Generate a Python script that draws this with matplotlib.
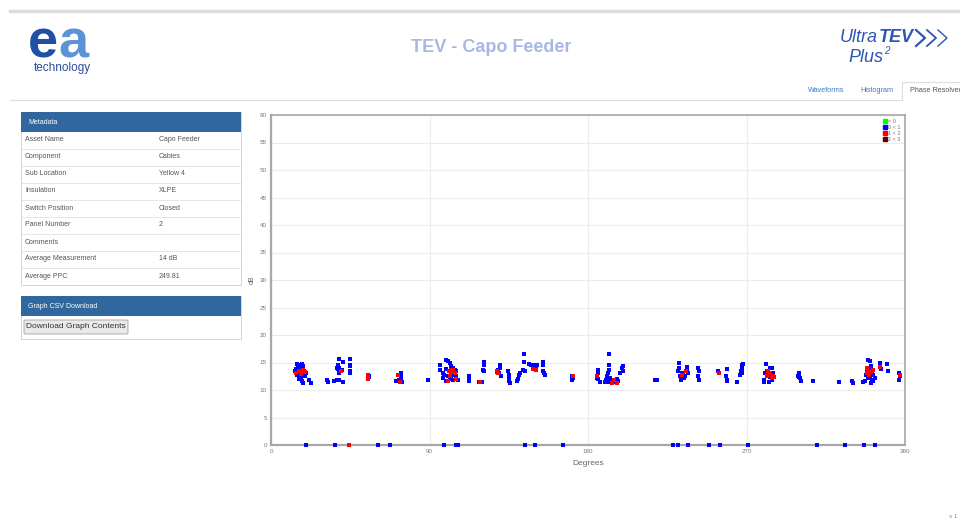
import matplotlib
matplotlib.use('Agg')
import matplotlib.pyplot as plt
from matplotlib.patches import Rectangle, FancyBboxPatch
from matplotlib.lines import Line2D

plt.rcParams['font.family'] = ['Liberation Sans', 'DejaVu Sans']

## Data (degrees, dB)
blue_deg = [14.8, 15.2, 17.6, 18.0, 14.2, 16.1, 17.1, 13.8, 15.2, 16.1, 18.0, 18.9, 15.7, 17.1, 18.0, 19.5, 16.1, 17.6, 18.4, 21.4, 22.7, 14.6, 19.9,
            31.8, 32.6, 36.0, 37.3, 38.5, 40.7, 38.8, 38.5, 37.9, 37.5, 38.5, 40.7, 40.4, 44.9, 44.9, 44.9, 44.9, 44.9, 37.9,
            55.5, 55.9,
            71.0, 72.0, 72.9, 73.9, 73.9, 73.9, 74.5, 72.6,
            89.0,
            97.6, 98.5, 95.7, 96.1, 99.5, 100.4, 101.4, 102.3, 103.3, 104.2, 105.2, 101.4, 99.5, 100.4, 102.3, 103.3, 104.2, 105.2, 106.1, 97.6, 99.5, 101.4, 103.6, 102.7,
            112.7, 112.7, 112.7, 118.2, 119.6,
            121.0, 121.0, 120.2, 121.0,
            128.2, 129.1, 129.7, 130.1, 130.1, 130.4, 128.5,
            134.8, 135.4, 135.4, 135.4, 135.7,
            139.9, 140.5, 141.0, 141.4,
            143.9, 143.9, 144.3, 143.3,
            146.7, 147.5, 148.0, 149.9, 150.5, 150.9,
            154.7, 154.7, 154.3, 155.0, 155.6,
            170.8, 171.3, 170.8,
            185.9, 185.9, 185.0, 185.9, 192.1, 192.1, 192.1, 191.6, 190.6, 190.2, 189.7, 191.6, 193.5, 194.4, 195.4, 196.3, 197.3, 198.2, 199.1, 200.1, 199.7, 192.5, 186.8,
            218.1, 219.0,
            231.9, 231.9, 231.3, 233.2, 232.3, 234.2, 235.1, 236.1, 236.4, 237.0, 232.7, 234.5,
            242.7, 243.3, 242.7, 243.3,
            254.0, 259.1, 258.4, 258.7, 259.1, 264.8, 267.3, 267.3, 266.7, 267.3, 266.3, 267.8,
            280.9, 281.5, 280.5, 279.9, 279.9, 282.4, 283.4, 284.3, 284.9, 283.4, 284.3, 283.0,
            299.9, 299.4, 300.4, 300.8, 299.9,
            308.0, 322.7, 329.7, 330.7,
            336.3, 337.3, 339.2, 340.1, 340.5, 339.2, 338.2, 340.1, 341.1, 342.0, 340.1, 339.2, 341.1, 342.0, 343.0, 340.5, 337.9,
            345.8, 346.2, 349.6, 350.5,
            356.8, 357.2, 356.8]
blue_db = [14.8, 14.5, 14.8, 14.3, 13.8, 14.0, 13.7, 13.4, 13.1, 13.4, 13.1, 13.4, 12.6, 12.4, 12.8, 12.6, 12.0, 11.6, 11.3, 11.8, 11.3, 12.8, 13.1,
           11.8, 11.4, 11.6, 11.8, 11.8, 11.5, 13.1, 15.7, 14.5, 14.0, 14.0, 15.1, 13.7, 15.7, 14.6, 14.3, 13.4, 13.1, 13.8,
           12.6, 12.4,
           11.6, 11.6, 11.6, 12.2, 13.1, 12.6, 11.4, 11.9,
           11.8,
           13.1, 12.8, 14.6, 13.7, 15.5, 15.2, 14.9, 14.3, 14.0, 13.7, 13.4, 13.4, 13.8, 12.5, 12.4, 11.9, 12.8, 12.5, 11.9, 12.2, 11.6, 12.0, 13.1, 12.8,
           12.6, 11.9, 11.6, 11.4, 11.4,
           15.1, 14.6, 13.7, 13.4,
           13.4, 13.7, 13.1, 14.6, 14.0, 12.6, 13.2,
           13.4, 12.8, 12.2, 11.6, 11.3,
           11.6, 12.0, 12.8, 13.1,
           16.5, 15.1, 13.4, 13.7,
           14.8, 14.6, 14.5, 14.6, 14.0, 14.6,
           15.1, 14.6, 13.4, 13.1, 12.8,
           12.6, 12.2, 11.9,
           13.7, 13.1, 12.2, 12.0, 16.5, 14.6, 13.7, 13.1, 12.5, 11.9, 11.4, 11.4, 11.6, 11.4, 11.9, 12.0, 11.6, 13.1, 14.0, 14.3, 13.4, 12.2, 11.4,
           11.8, 11.8,
           14.9, 14.0, 13.4, 13.1, 12.5, 12.8, 12.5, 14.2, 13.7, 13.1, 11.9, 12.2,
           14.0, 13.4, 12.6, 11.9,
           13.4, 13.8, 12.6, 11.9, 11.6, 11.4, 14.5, 13.8, 13.4, 13.1, 12.8, 14.8,
           14.8, 13.4, 13.1, 11.9, 11.4, 12.8, 14.0, 14.0, 13.1, 12.4, 11.9, 11.4,
           13.1, 12.6, 12.2, 11.6, 12.4,
           11.6, 11.4, 11.6, 11.3,
           11.4, 11.6, 15.5, 15.2, 14.3, 14.0, 13.4, 13.7, 13.1, 12.8, 12.5, 12.2, 11.9, 11.6, 12.2, 11.3, 12.8,
           14.9, 13.8, 14.7, 13.4,
           13.1, 12.5, 11.8]

red_deg = [14.2, 15.7, 18.4, 19.5, 17.1, 40.0, 55.3, 54.9, 72.0, 73.3,
           100.8, 102.3, 103.3, 101.4, 104.2, 100.4, 105.2, 102.3, 118.9, 128.5, 129.1, 149.0, 150.5, 171.3,
           185.0, 193.5, 196.3, 194.8, 233.2, 235.7, 254.6,
           281.5, 283.4, 284.9, 285.6, 282.4, 284.3,
           338.2, 339.2, 340.5, 341.6, 338.6, 339.8, 345.8, 357.2]
red_db = [13.1, 13.4, 13.6, 13.2, 13.0, 13.4, 12.8, 12.0, 12.8, 11.4,
          13.4, 13.2, 13.6, 12.6, 13.1, 11.6, 12.0, 13.7, 11.4, 13.4, 13.1, 13.8, 13.6, 12.5,
          12.6, 11.3, 11.3, 11.8, 12.8, 13.4, 13.1,
          12.5, 13.1, 12.6, 12.4, 13.4, 12.2,
          13.1, 13.4, 13.2, 13.6, 14.0, 12.8, 14.1, 12.8]

## points sitting on 0 dB
zero_blue_deg = [19.9, 36.6, 60.6, 67.8, 98.0, 104.8, 106.1, 144.3, 149.9, 166.0, 228.1, 231.3, 237.0,
                 248.9, 255.0, 271.0, 309.9, 325.9, 336.7, 343.0]
zero_red_deg = [44.5]

legend_labels = ['< 0', '0 < 1', '1 < 2', '2 < 3']
legend_colors = ['#00ff00', '#0000ff', '#ff0000', '#660000']

meta_labels = ['Asset Name', 'Component', 'Sub Location', 'Insulation', 'Switch Position',
               'Panel Number', 'Comments', 'Average Measurement', 'Average PPC']
meta_values = ['Capo Feeder', 'Cables', 'Yellow 4', 'XLPE', 'Closed', '2', '', '14 dB', '249.81']

W, H = 960, 520


def fx(x):
    return x / W


def fy(y):
    return 1 - y / H


fig = plt.figure(figsize=(9.6, 5.2), dpi=100)


def hline(x1, x2, y, color, lw):
    fig.add_artist(Line2D([fx(x1), fx(x2)], [fy(y), fy(y)], color=color, lw=lw))


def vline(x, y1, y2, color, lw):
    fig.add_artist(Line2D([fx(x), fx(x)], [fy(y1), fy(y2)], color=color, lw=lw))


def box(x, y, w, h, fc, ec='none', lw=0.7):
    fig.add_artist(Rectangle((fx(x), fy(y + h)), w / W, h / H, facecolor=fc, edgecolor=ec, lw=lw))


## Header
hline(10, 960, 11, '#dcdcdc', 2.5)
fig.text(fx(28), fy(57), 'e', fontsize=39, fontweight='heavy', color='#1f4fa6', ha='left', va='baseline')
fig.text(fx(58), fy(57), 'a', fontsize=39, fontweight='heavy', color='#5b93d6', ha='left', va='baseline')
fig.text(fx(62), fy(68), 'technology', fontsize=8.5, color='#2a4d9a', ha='center', va='center')
fig.text(fx(491), fy(48), 'TEV - Capo Feeder', fontsize=13, fontweight='bold', color='#a7b8e3',
         ha='center', va='center')

fig.text(fx(840), fy(38), 'Ultra', fontsize=13, style='italic', color='#2d56b0', ha='left', va='center')
fig.text(fx(879), fy(38), 'TEV', fontsize=13, style='italic', fontweight='bold', color='#2d56b0',
         ha='left', va='center')
for i in range(3):
    x0 = 916 + i * 11
    fig.add_artist(Line2D([fx(x0), fx(x0 + 9), fx(x0)], [fy(30), fy(38), fy(46)],
                          color='#2d56b0', lw=1.6 - i * 0.3))
fig.text(fx(848), fy(58), 'Plus', fontsize=13, style='italic', color='#2d56b0', ha='left', va='center')
fig.text(fx(884), fy(51), '2', fontsize=7, style='italic', color='#2d56b0', ha='left', va='center')

## Tabs
fig.text(fx(826), fy(91), 'Waveforms', fontsize=5.2, color='#3a7bc8', ha='center', va='center')
fig.text(fx(877), fy(91), 'Histogram', fontsize=5.2, color='#3a7bc8', ha='center', va='center')
fig.text(fx(910), fy(91), 'Phase Resolved', fontsize=5.2, color='#555555', ha='left', va='center')
hline(10, 902, 100, '#dddddd', 0.8)
vline(902, 82, 100, '#dddddd', 0.8)
hline(902, 960, 82, '#dddddd', 0.8)

## Metadata panel
box(21, 112, 220, 173, 'white', '#c3d7ea')
box(21, 112, 220, 20, '#30679e')
fig.text(fx(28), fy(122), 'Metadata', fontsize=5, color='white', ha='left', va='center')
for i in range(len(meta_labels)):
    yy = 140 + 17 * i
    fig.text(fx(25), fy(yy), meta_labels[i], fontsize=5, color='#555555', ha='left', va='center')
    fig.text(fx(159), fy(yy), meta_values[i], fontsize=5, color='#555555', ha='left', va='center')
    if i < len(meta_labels) - 1:
        hline(22, 240, yy + 8.5, '#e6e6e6', 0.7)

## CSV panel
box(21, 296, 220, 43, 'white', '#c3d7ea')
box(21, 296, 220, 20, '#30679e')
fig.text(fx(28), fy(306), 'Graph CSV Download', fontsize=5, color='white', ha='left', va='center')
fig.add_artist(FancyBboxPatch((fx(24), fy(334)), 104 / W, 14 / H, boxstyle='round,pad=0,rounding_size=0.002',
                              facecolor='#e9e9e9', edgecolor='#adadad', lw=0.7))
fig.text(fx(76), fy(327), 'Download Graph Contents', fontsize=6, color='#333333', ha='center', va='center')

## Phase resolved plot
ax = fig.add_axes([fx(271), fy(445), 634 / W, 330 / H])
ax.scatter(blue_deg, blue_db, s=6, marker='s', color='#0000ff', linewidths=0, zorder=3)
ax.scatter(red_deg, red_db, s=6, marker='s', color='#ff0000', linewidths=0, zorder=4)
ax.scatter(zero_blue_deg, [0] * len(zero_blue_deg), s=6, marker='s', color='#0000ff', linewidths=0,
           zorder=5, clip_on=False)
ax.scatter(zero_red_deg, [0] * len(zero_red_deg), s=6, marker='s', color='#ff0000', linewidths=0,
           zorder=5, clip_on=False)

ax.set_xlim(0, 360)
ax.set_ylim(0, 60)
ax.set_xticks([0, 90, 180, 270, 360])
ax.set_yticks(range(0, 61, 5))
ax.tick_params(length=0, labelsize=4.5, labelcolor='#777777', pad=3)
ax.grid(True, color='#ececec', lw=0.8)
ax.set_axisbelow(True)
for s in ax.spines.values():
    s.set_color('#a8a8a8')
    s.set_linewidth(1.2)
ax.spines['left'].set_linewidth(1.6)
ax.spines['bottom'].set_linewidth(1.6)
ax.set_xlabel('Degrees', fontsize=6, color='#666666', labelpad=4)
ax.set_ylabel('dB', fontsize=5, color='#666666', labelpad=3)

handles = [Line2D([], [], marker='s', ls='none', markersize=3.5, color=c) for c in legend_colors]
ax.legend(handles, legend_labels, loc='upper right', frameon=False, fontsize=4, handlelength=0.6,
          handletextpad=0.2, labelspacing=0.15, borderaxespad=0.4, labelcolor='#777777')

fig.text(fx(953), fy(517), 'v 1', fontsize=4.5, color='#888888', ha='center', va='center')

fig.savefig('out.png', dpi=100)
